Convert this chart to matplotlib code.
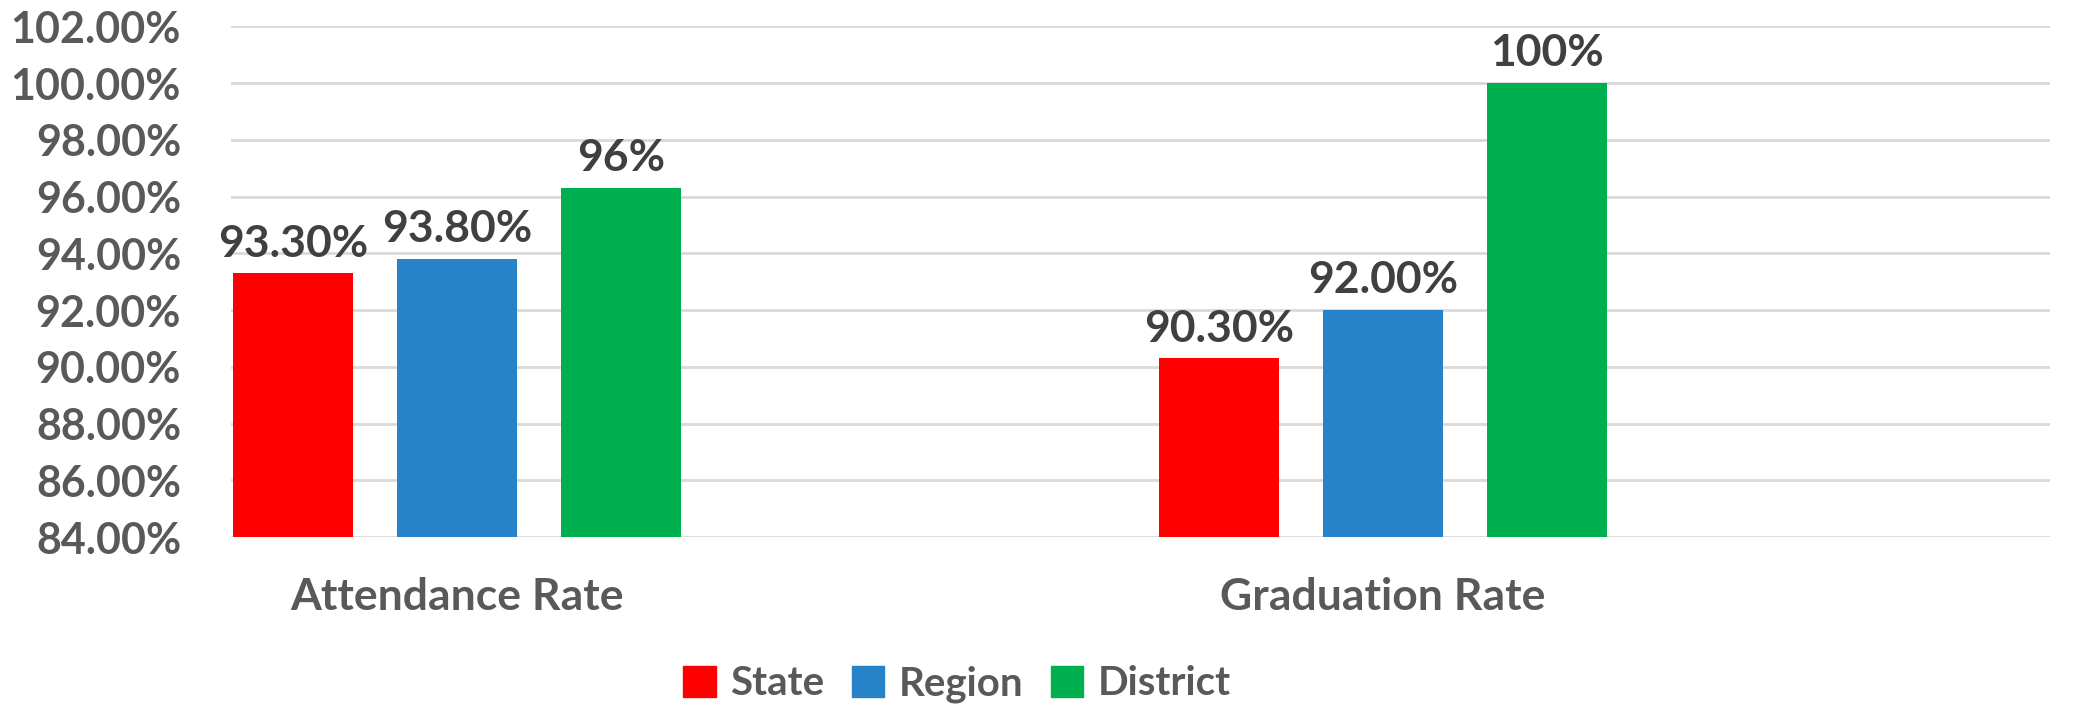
import matplotlib
matplotlib.use("Agg")
import matplotlib.pyplot as plt
import numpy as np
from matplotlib.ticker import FuncFormatter
from matplotlib.patches import Patch

categories = ["Attendance Rate", "Graduation Rate"]
series = ["State", "Region", "District"]
state = [0.933, 0.903]
region = [0.938, 0.920]
district = [0.963, 1.000]
labels = [["93.30%", "90.30%"], ["93.80%", "92.00%"], ["96%", "100%"]]
colors = ["#FF0000", "#2882C8", "#00B050"]

plt.rcParams["font.family"] = ["Lato", "DejaVu Sans"]
plt.rcParams["font.weight"] = "bold"

fig = plt.figure(figsize=(20.74, 7.08), dpi=100)
ax = fig.add_axes([0.1114, 0.2415, 0.9884 - 0.1114, 0.9626 - 0.2415])

x = np.arange(len(categories))
width = 0.13
offset = 0.177
for i, vals in enumerate([state, region, district]):
    bars = ax.bar(x + (i - 1) * offset, vals, width, color=colors[i], zorder=3)
    for b, lab in zip(bars, labels[i]):
        ax.annotate(lab, (b.get_x() + b.get_width() / 2, b.get_height()),
                    xytext=(0, 7), textcoords="offset points",
                    ha="center", va="bottom", fontsize=32, fontweight="bold",
                    color="#404040")

ax.set_ylim(0.84, 1.02)
ax.set_yticks(np.arange(0.84, 1.0201, 0.02))
ax.yaxis.set_major_formatter(FuncFormatter(lambda v, p: f"{v * 100:.2f}%"))
ax.set_xlim(-0.244, 1.72)
ax.set_xticks(x)
ax.set_xticklabels(categories)

ax.grid(axis="y", color="#D9D9D9", linewidth=2, zorder=0)
for s in ["top", "right", "left", "bottom"]:
    ax.spines[s].set_visible(False)
ax.tick_params(axis="y", length=0, pad=36, labelsize=31, labelcolor="#595959")
ax.tick_params(axis="x", length=0, pad=29, labelsize=32, labelcolor="#595959")
for t in ax.get_xticklabels() + ax.get_yticklabels():
    t.set_fontweight("bold")

handles = [Patch(color=c, label=s) for c, s in zip(colors, series)]
leg = fig.legend(handles=handles, loc="center", bbox_to_anchor=(957 / 2074, 1 - 684 / 708),
                 ncol=3, frameon=False, fontsize=29, handlelength=0.8, handleheight=0.8,
                 handletextpad=0.35, columnspacing=0.7)
for t in leg.get_texts():
    t.set_color("#595959")
    t.set_fontweight("bold")

fig.savefig("out.png", dpi=100)
